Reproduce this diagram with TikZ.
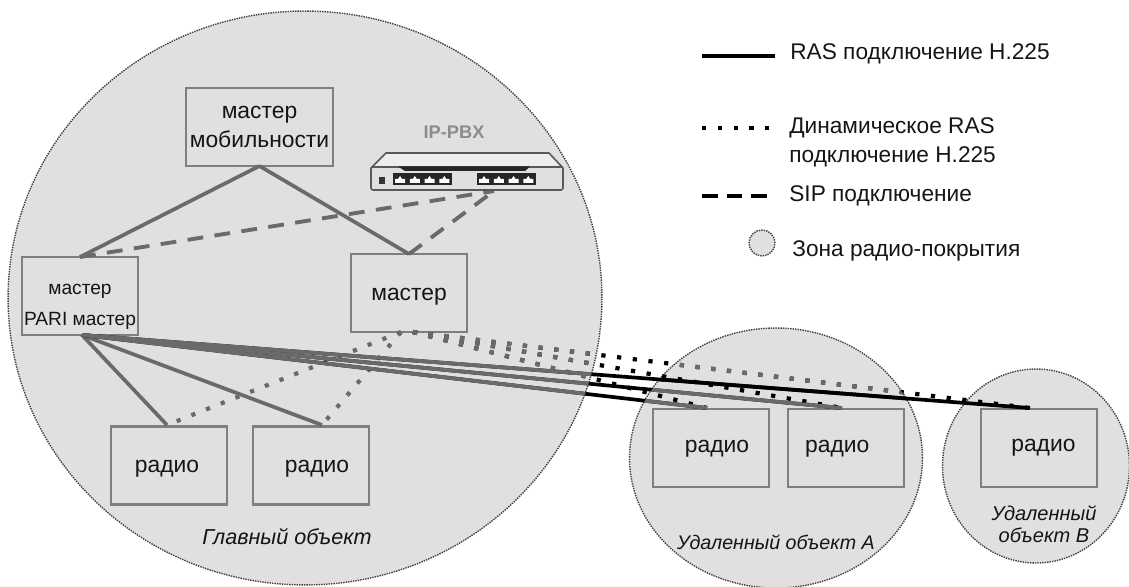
\documentclass[tikz,border=0pt]{standalone}
\usepackage{fontspec}
\setmainfont{Liberation Sans}
\usetikzlibrary{shapes.geometric}
\definecolor{zonegray}{HTML}{E0E0E0}
\definecolor{linegray}{HTML}{6A6A6A}
\definecolor{boxgray}{HTML}{7F7F7F}
\definecolor{textblack}{HTML}{151515}
\newcommand{\radiotxt}[1]{\rule{0pt}{#1}радио}
\tikzset{
    zone/.style={ellipse, draw=black!75, fill=zonegray, line width=0.8pt, dash pattern=on 0.8pt off 0.6pt, inner sep=0, outer sep=0},
    box/.style={rectangle, draw=boxgray, fill=zonegray, line width=1.3pt, minimum width=2.32cm, minimum height=1.56cm, inner sep=0, outer sep=0, align=center, text=textblack, font=\fontsize{13}{16.5}\selectfont},
    ras/.style={line width=2.1pt},
    dynras/.style={line width=2.4pt, dash pattern=on 2.4pt off 6.6pt},
    sip/.style={line width=2.2pt, dash pattern=on 9pt off 6.5pt},
    legend/.style={anchor=west, inner sep=0, align=left, text=textblack, font=\fontsize{12.9}{16.4}\selectfont},
    place/.style={inner sep=0, align=center, text=textblack, font=\fontsize{11.2}{12.5}\selectfont\itshape},
}
\begin{document}
\begin{tikzpicture}[x=0.02cm,y=-0.02cm]
    \useasboundingbox (0,0) rectangle (1129,587);

    % radio coverage zones
    \node at (305,298) [zone, minimum width=11.88cm, minimum height=11.48cm] (main_zone) {};
    \node at (776,458) [zone, minimum width=5.86cm, minimum height=5.2cm] (zone_A) {};
    \node at (1036,466) [zone, minimum width=3.74cm, minimum height=3.88cm] (zone_B) {};

    % boxes
    \node at (259.5,127) [box, minimum width=2.94cm] (mobility) {мастер\\мобильности};
    \node at (80,296) [box, font=\fontsize{10.9}{16.5}\selectfont] (pari) {\rule{0pt}{18pt}мастер\\[1pt]PARI мастер};
    \node at (409,293) [box] (master) {\rule{0pt}{11.4pt}мастер};
    \node at (169,465.5) [box] (radio_1) {\radiotxt{10.4pt}\hspace*{2.3pt}};
    \node at (311,465.5) [box] (radio_2) {\hspace*{6.8pt}\radiotxt{10.4pt}};
    \node at (711,448) [box] (radio_A1) {\hspace*{6.8pt}\radiotxt{8.2pt}};
    \node at (846,448) [box] (radio_A2) {\radiotxt{8.2pt}\hspace*{10pt}};
    \node at (1039,448) [box] (radio_B) {\hspace*{5pt}\raisebox{1pt}{радио}};

    % connector ends
    \coordinate (pbx_in) at (494,191);
    \coordinate (pari_out) at (82,335);
    \coordinate (master_out) at (413,332);
    \coordinate (master_left) at (401,332);
    \coordinate (radio_1_in) at (167,425);
    \coordinate (radio_2_in) at (322,425);
    \coordinate (A1_in) at (707,408);
    \coordinate (A2_in) at (842,408);
    \coordinate (B_in) at (1030,408);

    % links inside the main site
    \draw[ras, linegray] (mobility.south) -- (pari.north);
    \draw[ras, linegray] (mobility.south) -- (master.north);
    \draw[ras, linegray] (pari_out) -- (radio_1_in);
    \draw[ras, linegray] (pari_out) -- (radio_2_in);
    \draw[sip, linegray] (pari.north) -- (pbx_in);
    \draw[sip, linegray] (master.north) -- (pbx_in);
    \draw[dynras, linegray] (master_left) -- (radio_1_in);
    \draw[dynras, linegray] (master_left) -- (radio_2_in);

    % links to the remote sites, black first
    \foreach \radio in {A1_in, A2_in, B_in} {
        \draw[ras, black] (pari_out) -- (\radio);
        \draw[dynras, black] (master_out) -- (\radio);
    }
    % grey where they run over the main zone
    \begin{scope}
        \clip (305,298) ellipse [x radius=297, y radius=287];
        \foreach \radio in {A1_in, A2_in, B_in} {
            \draw[ras, linegray] (pari_out) -- (\radio);
            \draw[dynras, linegray] (master_out) -- (\radio);
        }
    \end{scope}
    % grey inside zone A, apart from the line to B and the dotted A lines
    \begin{scope}
        \clip (776,458) ellipse [x radius=146, y radius=130];
        \draw[ras, linegray] (pari_out) -- (A1_in);
        \draw[ras, linegray] (pari_out) -- (A2_in);
        \draw[dynras, linegray] (master_out) -- (B_in);
        \draw[ras, black] (pari_out) -- (B_in);
    \end{scope}

    % IP-PBX
    \node at (454,132) [inner sep=0, text=black!45, font=\fontsize{10.4}{12}\selectfont\bfseries] (pbx_label) {IP-PBX};
    \draw[black!65, fill=black!7, line width=0.9pt, line join=round] (371,168) -- (386,153) -- (549,153) -- (563,168) -- cycle;
    \draw[black!65, fill=black!12, line width=0.9pt, rounded corners=1.2pt] (371,167) rectangle (563,190);
    \fill[black!85] (398,166.5) -- (530,166.5) -- (525,171) -- (405,171) -- cycle;
    \fill[black!80] (379,177) rectangle (385,184);
    \foreach \portx in {393,477} {
        \fill[black!85] (\portx,173) rectangle ++(59,12);
        \foreach \i in {0,1,2,3} {
            \fill[white] ({\portx+2+14.75*\i},183) -- ++(0,-4) -- ++(3,0) -- ++(2,-3) -- ++(2,3) -- ++(3,0) -- ++(0,4) -- cycle;
        }
    }

    % site names
    \node at (287,537) [place, font=\fontsize{12.3}{14}\selectfont\itshape] (main_name) {Главный объект};
    \node at (776,542) [place] (A_name) {Удаленный объект А};
    \node at (1044,524) [place, font=\fontsize{11.4}{12.6}\selectfont\itshape] (B_name) {Удаленный\\объект В};

    % legend
    \coordinate (ras_a) at (702,56);
    \coordinate (ras_b) at (775,56);
    \coordinate (dyn_a) at (702,128);
    \coordinate (dyn_b) at (775,128);
    \coordinate (sip_a) at (702,196);
    \coordinate (sip_b) at (775,196);
    \draw[ras, black, line width=2.2pt] (ras_a) -- (ras_b);
    \draw[dynras, black] (dyn_a) -- (dyn_b);
    \draw[sip, black, dash pattern=on 9pt off 5pt] (sip_a) -- (sip_b);
    \node at (762,243) [zone, minimum width=0.52cm, minimum height=0.52cm] (zone_key) {};
    \node at (790,54) [legend] (ras_text) {RAS подключение H.225};
    \node at (789,142) [legend] (dyn_text) {Динамическое RAS\\подключение H.225};
    \node at (789,196) [legend] (sip_text) {SIP подключение};
    \node at (792,251) [legend] (zone_text) {Зона радио-покрытия};
\end{tikzpicture}
\end{document}
